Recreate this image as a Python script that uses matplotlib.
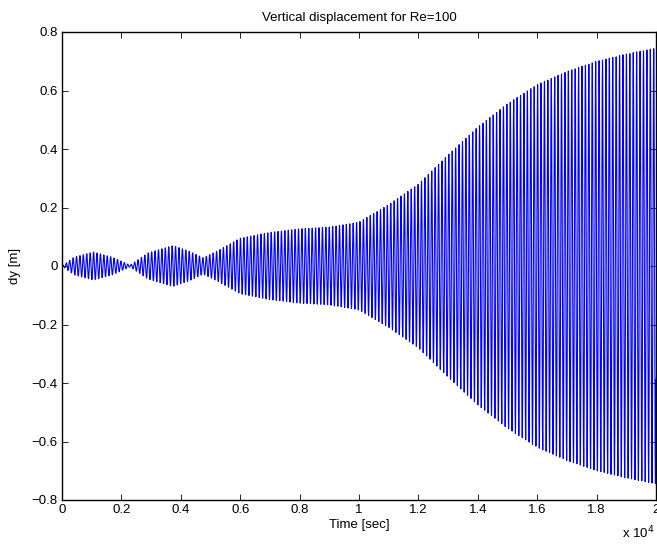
import numpy as np
import matplotlib.pyplot as plt

plt.rcParams['font.family'] = ['Liberation Sans', 'DejaVu Sans']

# envelope of the vertical displacement
env_time = [0, 400, 1050, 1700, 2290, 2900, 3740, 4300, 4750, 5200, 6000, 7000,
            8000, 9000, 10000, 11000, 12000, 13000, 14000, 15000, 16000, 17000,
            18000, 19000, 20000]
env_amp = [0.0, 0.03, 0.048, 0.03, 0.003, 0.045, 0.07, 0.05, 0.028, 0.05, 0.095, 0.115,
           0.127, 0.133, 0.15, 0.21, 0.28, 0.38, 0.475, 0.555, 0.62, 0.665,
           0.70, 0.725, 0.745]
period = 115.0  # oscillation period [sec]

x_ticks = [0, 2000, 4000, 6000, 8000, 10000, 12000, 14000, 16000, 18000, 20000]
x_labels = ['0', '0.2', '0.4', '0.6', '0.8', '1', '1.2', '1.4', '1.6', '1.8', '2']
y_ticks = [-0.8, -0.6, -0.4, -0.2, 0, 0.2, 0.4, 0.6, 0.8]
y_labels = ['\u22120.8', '\u22120.6', '\u22120.4', '\u22120.2', '0', '0.2', '0.4', '0.6', '0.8']

t = np.linspace(0, 20000, 9000)
env = np.interp(t, env_time, env_amp)
dy = env * np.sin(2 * np.pi * t / period)

fig = plt.figure(figsize=(6.57, 5.44), dpi=100)
ax = fig.add_axes([62 / 657, 44 / 544, 594 / 657, 468 / 544])
ax.plot(t, dy, color='#0000ff', linewidth=0.8)

ax.set_xlim(0, 20000)
ax.set_ylim(-0.8, 0.8)
ax.set_xticks(x_ticks)
ax.set_xticklabels(x_labels)
ax.set_yticks(y_ticks)
ax.set_yticklabels(y_labels)
ax.tick_params(direction='in', top=True, right=True, length=4, width=0.6,
               labelsize=9.5, pad=3)
for s in ax.spines.values():
    s.set_linewidth(1.0)

ax.set_title('Vertical displacement for Re=100', fontsize=9.5, pad=8)
ax.set_xlabel('Time [sec]', fontsize=9.5, labelpad=2)
ax.set_ylabel('dy [m]', fontsize=9.5, labelpad=8)
fig.text(655 / 657, 1 - 533 / 544, 'x 10$^{4}$', fontsize=9.5, ha='right', va='center')

fig.savefig('out.png', dpi=100)
